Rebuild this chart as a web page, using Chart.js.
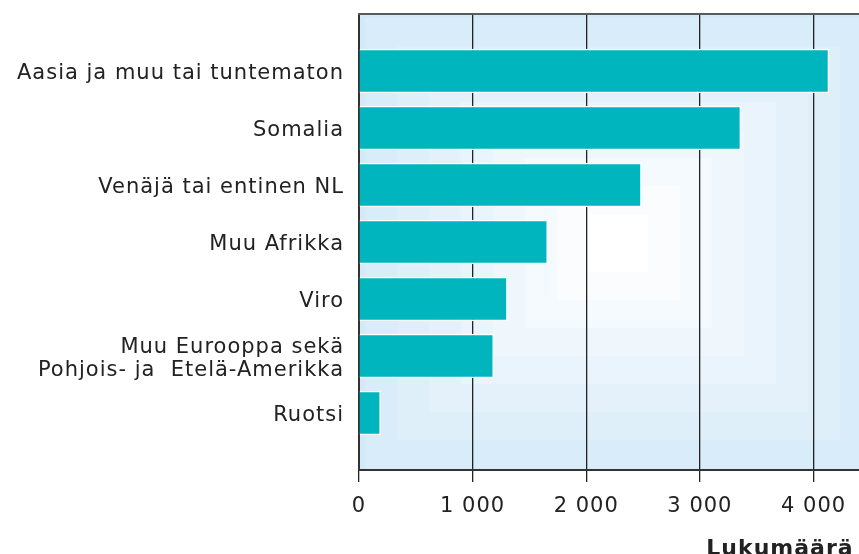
<!DOCTYPE html>
<html>
<head>
<meta charset="utf-8">
<script src="https://cdn.jsdelivr.net/npm/chart.js@4/dist/chart.umd.min.js"></script>
<style>
  html, body { margin: 0; padding: 0; background: #ffffff; }
  canvas { display: block; }
</style>
</head>
<body>
<canvas id="c" width="859" height="554" style="width:859px;height:554px"></canvas>
<script>
const categories = [
  '',
  'Aasia ja muu tai tuntematon',
  'Somalia',
  'Venäjä tai entinen NL',
  'Muu Afrikka',
  'Viro',
  ['Muu Eurooppa sekä', 'Pohjois- ja  Etelä-Amerikka'],
  'Ruotsi',
  ''
];
const values = [null, 4135, 3360, 2485, 1660, 1305, 1185, 190, null];
const xTickValues = [0, 1000, 2000, 3000, 4000];
const xTickLabels = ['0', '1 000', '2 000', '3 000', '4 000'];
const axisTitle = 'Lukumäärä\u2009';

const FONT = "'DejaVu Sans', sans-serif";

function spacing(chart) {
  if ('letterSpacing' in chart.ctx) chart.ctx.letterSpacing = '1px';
}

const bgPlugin = {
  id: 'bg',
  beforeInit: spacing,
  beforeUpdate: spacing,
  beforeLayout: spacing,
  beforeDraw(chart) {
    spacing(chart);
    const { ctx, chartArea: a } = chart;
    const cx = 618.5, cy = 243;
    const steps = 8;
    const outer = [212, 233, 248];
    ctx.save();
    for (let i = steps; i >= 0; i--) {
      const t = i / steps;
      const r = Math.round(255 + (outer[0] - 255) * t);
      const g = Math.round(255 + (outer[1] - 255) * t);
      const b = Math.round(255 + (outer[2] - 255) * t);
      ctx.fillStyle = `rgb(${r},${g},${b})`;
      let hw = 29.5 + 32 * i, hh = 29 + 28 * i;
      let x0 = Math.max(a.left, cx - hw), x1 = Math.min(a.right, cx + hw);
      let y0 = Math.max(a.top, cy - hh), y1 = Math.min(a.bottom, cy + hh);
      if (i === steps) { x0 = a.left; x1 = a.right; y0 = a.top; y1 = a.bottom; }
      ctx.fillRect(x0, y0, x1 - x0, y1 - y0);
    }
    ctx.restore();
  },
  afterDraw(chart) {
    const { ctx, chartArea: a } = chart;
    ctx.save();
    ctx.strokeStyle = '#5a5a5a';
    ctx.lineWidth = 2;
    ctx.beginPath();
    ctx.moveTo(a.left - 1, a.top);
    ctx.lineTo(a.right, a.top);
    ctx.stroke();
    ctx.restore();
  }
};

new Chart(document.getElementById('c'), {
  type: 'bar',
  data: {
    labels: categories,
    datasets: [{
      data: values,
      backgroundColor: '#00b5bd',
      borderColor: '#ffffff',
      borderWidth: 1.5,
      barThickness: 44
    }]
  },
  options: {
    indexAxis: 'y',
    responsive: false,
    animation: false,
    devicePixelRatio: 1,
    layout: { padding: { top: 14, right: 0, left: 0, bottom: 0 } },
    plugins: { legend: { display: false }, tooltip: { enabled: false } },
    scales: {
      x: {
        type: 'linear',
        min: 0,
        max: 4400,
        afterBuildTicks(scale) {
          scale.ticks = xTickValues.map(v => ({ value: v }));
        },
        afterFit(scale) { scale.height = 84; scale.paddingRight = 0; scale.paddingLeft = 0; },
        ticks: {
          autoSkip: false,
          maxRotation: 0,
          padding: 12,
          color: '#222222',
          font: { family: FONT, size: 21 },
          callback(v) {
            const i = xTickValues.indexOf(v);
            return i >= 0 ? xTickLabels[i] : '';
          }
        },
        grid: {
          color: '#222222',
          lineWidth: 1.3,
          drawTicks: true,
          tickLength: 12,
          tickColor: '#222222'
        },
        border: { display: true, color: '#333333', width: 2 },
        title: {
          display: true,
          text: axisTitle,
          align: 'end',
          color: '#222222',
          font: { family: FONT, size: 22, weight: 'bold' },
          padding: { top: 4, bottom: -8 }
        }
      },
      y: {
        type: 'category',
        offset: false,
        afterFit(scale) { scale.width = 359; scale.paddingTop = 0; scale.paddingBottom = 0; },
        grid: { display: false, drawTicks: false },
        border: { display: true, color: '#333333', width: 2 },
        ticks: {
          autoSkip: false,
          padding: 15,
          labelOffset: 3,
          color: '#222222',
          font: { family: FONT, size: 21, lineHeight: 1.1 }
        }
      }
    }
  },
  plugins: [bgPlugin]
});
</script>
</body>
</html>
